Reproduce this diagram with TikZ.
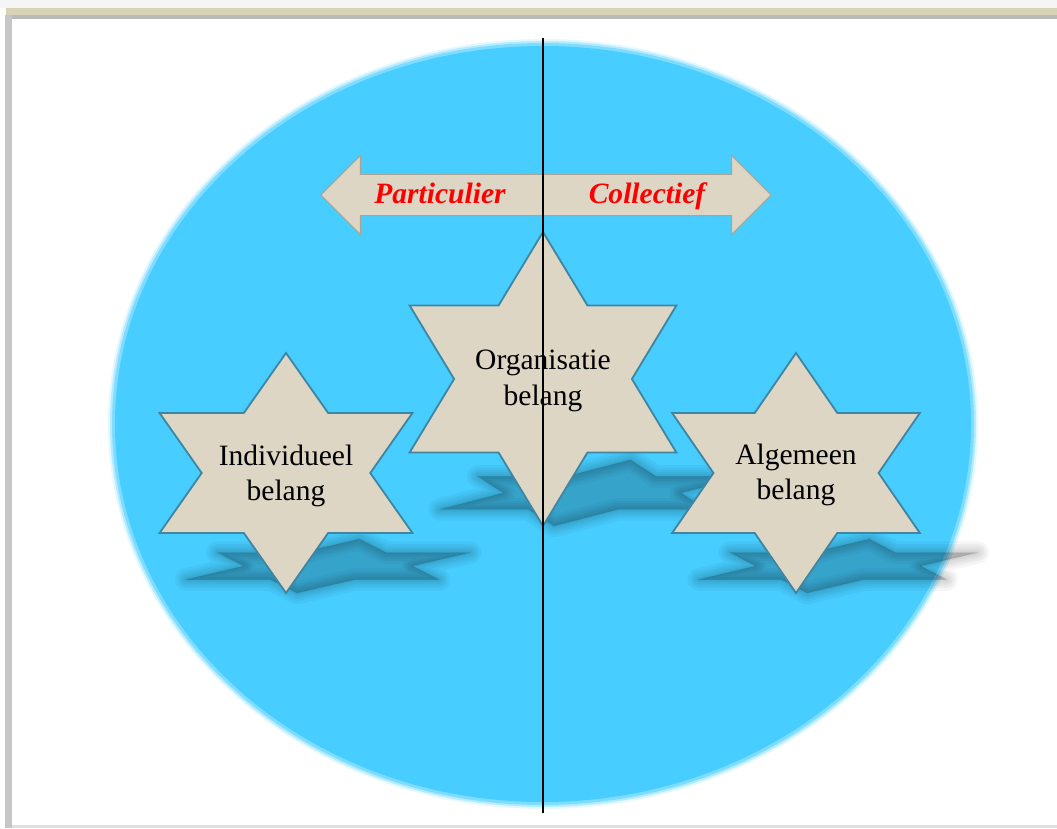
\documentclass[tikz,border=0pt]{standalone}
\usepackage{fontspec}
\setmainfont{Liberation Serif}
\usetikzlibrary{shapes.arrows}
\definecolor{blauw}{HTML}{47CDFF}
\definecolor{zand}{HTML}{DED6C4}
\definecolor{sterrand}{HTML}{3F86A2}
\definecolor{pijlrand}{HTML}{ABA595}
\definecolor{kader}{HTML}{D8D3B6}
% zespuntige ster: [stijl] {cx}{cy}{rx}{ry}
\newcommand\hexster[5][]{%
  \draw[#1] ({#2},{#3-#5})
    \foreach \a in {1,...,11}{ -- ({#2+#4*ifthenelse(mod(\a,2)==0,1,0.57735)*cos(90+30*\a)},
                                  {#3-#5*ifthenelse(mod(\a,2)==0,1,0.57735)*sin(90+30*\a)})} -- cycle;}
% platte schaduw van de ster: [stijl] {cx}{cy}{rx}{ry}
\newcommand\sterschaduw[5][]{%
  \draw[#1] ({#2+11+0.52*#5},{#3+#5-0.45*#5})
    \foreach \a in {1,...,11}{ -- ({#2+11+#4*ifthenelse(mod(\a,2)==0,1,0.57735)*cos(90+30*\a)
                                     +0.26*(#5*ifthenelse(mod(\a,2)==0,1,0.57735)*sin(90+30*\a)+#5)},
                                  {#3+#5-0.225*(#5*ifthenelse(mod(\a,2)==0,1,0.57735)*sin(90+30*\a)+#5)})} -- cycle;}

\begin{document}
\begin{tikzpicture}[x=0.025cm,y=-0.025cm,
  ster/.style={fill=zand,draw=sterrand,line width=1.3pt,line join=miter},
  schaduw/.style={fill=black,draw=black,line join=round,opacity=0.035},
  belang/.style={font=\fontsize{21}{25.5}\selectfont,align=center,inner sep=0pt},
  pijltekst/.style={font=\fontsize{21}{25.5}\selectfont\bfseries\itshape,text=red,inner sep=0pt}]
\useasboundingbox (0,0) rectangle (1057,828);
% kader
\fill[gray!8] (0,0) rectangle (1057,8);
\fill[kader] (6,8) rectangle (1057,15);
\fill[gray!55] (6,15) rectangle (1057,19);
\fill[gray!45] (5,15) rectangle (12,828);
\fill[gray!25] (12,825) rectangle (1057,828);
% achtergrond
\fill[blauw!15] (543,424) ellipse (435 and 385);
\fill[blauw!40] (543,424) ellipse (433 and 383);
\fill[blauw!70] (543,424) ellipse (431 and 381);
\fill[blauw] (543,424) ellipse (428 and 378);
% schaduwen
\foreach \w in {16,12,9,6,3,1}{
  \sterschaduw[schaduw,line width=\w pt]{286}{473}{146}{120}
  \sterschaduw[schaduw,line width=\w pt]{543}{379}{154}{147}
  \sterschaduw[schaduw,line width=\w pt]{796}{473}{143}{120}
}
% pijl
\node[double arrow,fill=zand,draw=pijlrand,line width=0.8pt,inner xsep=0pt,inner ysep=0.5cm,
  minimum height=11.25cm,double arrow head extend=0.475cm] (pijl) at (546,195) {};
\node[pijltekst] (particulier) at (440,193) {Particulier};
\node[pijltekst] (collectief) at (647,196) {Collectief};
% sterren
\hexster[ster]{286}{473}{146}{120}
\hexster[ster]{543}{379}{154}{147}
\hexster[ster]{796}{473}{143}{120}
\node[belang] (individueel) at (286,476) {Individueel\\belang};
\node[belang] (organisatie) at (543,381) {Organisatie\\belang};
\node[belang] (algemeen) at (796,475) {Algemeen\\belang};
% middenlijn
\coordinate (boven) at (543,38);
\coordinate (onder) at (543,813);
\draw[black,line width=1.4pt] (boven) -- (onder);
\end{tikzpicture}
\end{document}
